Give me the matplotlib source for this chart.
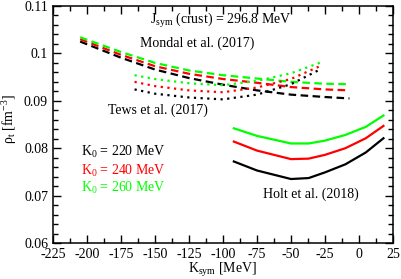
import matplotlib
matplotlib.use("Agg")
import matplotlib.pyplot as plt
from matplotlib.ticker import MultipleLocator

plt.rcParams['font.family'] = ['Liberation Serif', 'DejaVu Serif']
plt.rcParams['mathtext.fontset'] = 'custom'
plt.rcParams['mathtext.rm'] = 'Liberation Serif'
plt.rcParams['mathtext.it'] = 'Liberation Serif:italic'
plt.rcParams['axes.unicode_minus'] = False

# Mondal et al. (2017) - dashed
mondal_k = [-205, -175, -150, -125, -100, -75, -50, -25, -7]
mondal_220 = [0.1025, 0.0991, 0.0966, 0.0948, 0.0934, 0.0922, 0.0913, 0.0908, 0.0905]
mondal_240 = [0.1030, 0.0997, 0.0973, 0.0957, 0.0946, 0.0938, 0.0929, 0.0924, 0.0922]
mondal_260 = [0.1034, 0.1003, 0.0980, 0.0964, 0.0954, 0.0947, 0.0940, 0.0936, 0.0935]

# Tews et al. (2017) - dotted
tews_k = [-165, -150, -125, -100, -75, -50, -28]
tews_220 = [0.0924, 0.0915, 0.0907, 0.0903, 0.0913, 0.0935, 0.0967]
tews_240 = [0.0940, 0.0931, 0.0922, 0.0918, 0.0928, 0.0946, 0.0974]
tews_260 = [0.0954, 0.0946, 0.0937, 0.0933, 0.0942, 0.0958, 0.0981]

# Holt et al. (2018) - solid
holt_k = [-92, -75, -50, -37, -25, -10, 5, 18]
holt_220 = [0.0772, 0.0753, 0.0735, 0.0737, 0.0749, 0.0766, 0.0791, 0.0821]
holt_240 = [0.0814, 0.0795, 0.0777, 0.0778, 0.0786, 0.0800, 0.0821, 0.0847]
holt_260 = [0.0842, 0.0826, 0.0810, 0.0810, 0.0816, 0.0828, 0.0845, 0.0869]

colors = ['black', '#ff0000', '#00ff00']
k0_labels = ['220', '240', '260']

fig = plt.figure(figsize=(4.01, 2.79), dpi=100)
ax = fig.add_axes([0.132, 0.129, 0.848, 0.8495])

lw = 1.6
for c, y in zip(colors, [mondal_220, mondal_240, mondal_260]):
    ax.plot(mondal_k, y, color=c, lw=lw, dashes=(3.4, 2.0))
for c, y in zip(colors, [tews_220, tews_240, tews_260]):
    ax.plot(tews_k, y, color=c, lw=lw, dashes=(1.0, 2.0))
for c, y in zip(colors, [holt_220, holt_240, holt_260]):
    ax.plot(holt_k, y, color=c, lw=lw)

ax.set_xlim(-225, 25)
ax.set_ylim(0.06, 0.11)
ax.xaxis.set_major_locator(MultipleLocator(25))
ax.xaxis.set_minor_locator(MultipleLocator(12.5))
ax.yaxis.set_minor_locator(MultipleLocator(0.002))
ax.set_yticks([0.06, 0.07, 0.08, 0.09, 0.1, 0.11])
ax.set_yticklabels(['0.06', '0.07', '0.08', '0.09', '0.1', '0.11'])
ax.tick_params(which='both', direction='in', top=True, right=True, labelsize=10)
ax.tick_params(which='major', length=6, width=1)
ax.tick_params(which='minor', length=3.5, width=1)
for s in ax.spines.values():
    s.set_linewidth(1.1)

ax.set_xlabel('K$_\\mathrm{sym}$ [MeV]', fontsize=10, labelpad=0)
ax.set_ylabel('ρ$_\\mathrm{t}$ [fm$^{-3}$]', fontsize=10)
ax.yaxis.set_label_coords(-0.10, 0.525)

fs = 10
ax.text(-154, 0.1070, 'J$_\\mathrm{sym}$ (crust) = 296.8 MeV', fontsize=fs, va='center')
ax.text(-119, 0.1022, 'Mondal et al. (2017)', fontsize=fs, ha='center', va='center')
ax.text(-148, 0.0881, 'Tews et al. (2017)', fontsize=fs, ha='center', va='center')
ax.text(-35, 0.0703, 'Holt et al. (2018)', fontsize=fs, ha='center', va='center')
for c, lab, yy in zip(colors, k0_labels, [0.0792, 0.0752, 0.0716]):
    ax.text(-204, yy, 'K$_0$ = ' + lab + ' MeV', fontsize=fs, color=c, va='center')

fig.savefig('out.png', dpi=100)
